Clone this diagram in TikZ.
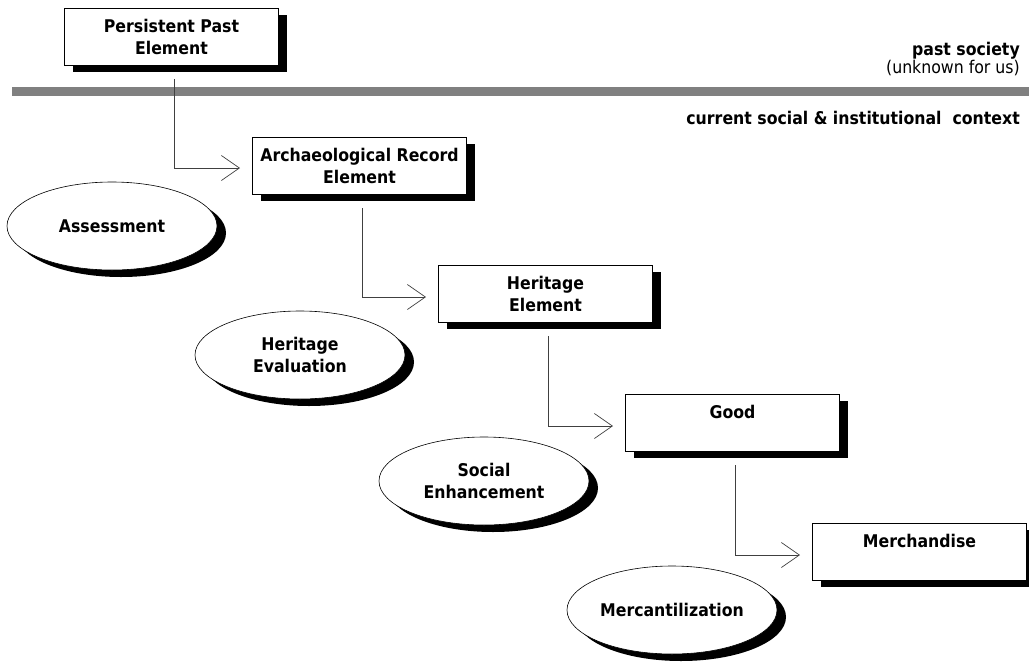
\documentclass[tikz,border=0pt]{standalone}
\usepackage{fontspec}
\setmainfont{DejaVu Sans Condensed}
\usepackage{tikz}
\usetikzlibrary{arrows.meta, positioning, shapes.geometric, shadows, calc}

\begin{document}
\begin{tikzpicture}[x=1pt, y=-1pt,
    stage/.style={draw, line width=1pt, fill=white, minimum width=214pt, minimum height=57pt, align=center, anchor=north west,
        font=\fontsize{17.5}{21.5}\selectfont\bfseries, inner sep=2pt,
        drop shadow={shadow xshift=8pt, shadow yshift=-6pt, fill=black, opacity=1}},
    act/.style={ellipse, draw, line width=0.6pt, fill=white, minimum width=210pt, minimum height=88pt, align=center, inner sep=0pt,
        font=\fontsize{17.5}{21.5}\selectfont\bfseries,
        drop shadow={shadow xshift=9pt, shadow yshift=-7pt, fill=black, opacity=1}},
    arr/.style={-{Straight Barb[length=18pt, width=25pt]}, draw=black!75, line width=0.7pt},
    note/.style={anchor=base east, inner sep=0pt, font=\fontsize{17.5}{20}\selectfont}
]
    \useasboundingbox (0,0) rectangle (1029,662);

    % Boundary between the two contexts
    \fill[gray] (12,87) rectangle (1029,96);
    \node[note, font=\fontsize{17.5}{20}\selectfont\bfseries] (past) at (1020,55) {past society};
    \node[note] (unknown) at (1020,73) {(unknown for us)};
    \node[note, font=\fontsize{17.5}{20}\selectfont\bfseries] (current) at (1020,124) {current social \& institutional\ \ context};

    % Elements
    \node[stage] (persist) at (64,8)   {Persistent Past\\Element};
    \node[stage] (arch)    at (252,137) {Archaeological Record\\Element};
    \node[stage] (herit)   at (438,265) {Heritage\\Element};
    \node[stage] (good)    at (625,394) {Good\\~};
    \node[stage] (merch)   at (812,523) {Merchandise\\~};

    % Processes
    \node[act] (assess) at (112,226) {Assessment};
    \node[act] (heval)  at (300,355) {Heritage\\Evaluation};
    \node[act] (social) at (484,481) {Social\\Enhancement};
    \node[act] (mercan) at (672,610) {Mercantilization};

    % Transitions
    \draw[arr] ($(persist.south)+(3,13)$) |- ($(arch.west)+(-12,2)$);
    \draw[arr] ($(arch.south)+(3,13)$)    |- ($(herit.west)+(-12,3)$);
    \draw[arr] ($(herit.south)+(3,13)$)   |- ($(good.west)+(-12,3)$);
    \draw[arr] ($(good.south)+(3,13)$)    |- ($(merch.west)+(-12,3)$);
\end{tikzpicture}
\end{document}
